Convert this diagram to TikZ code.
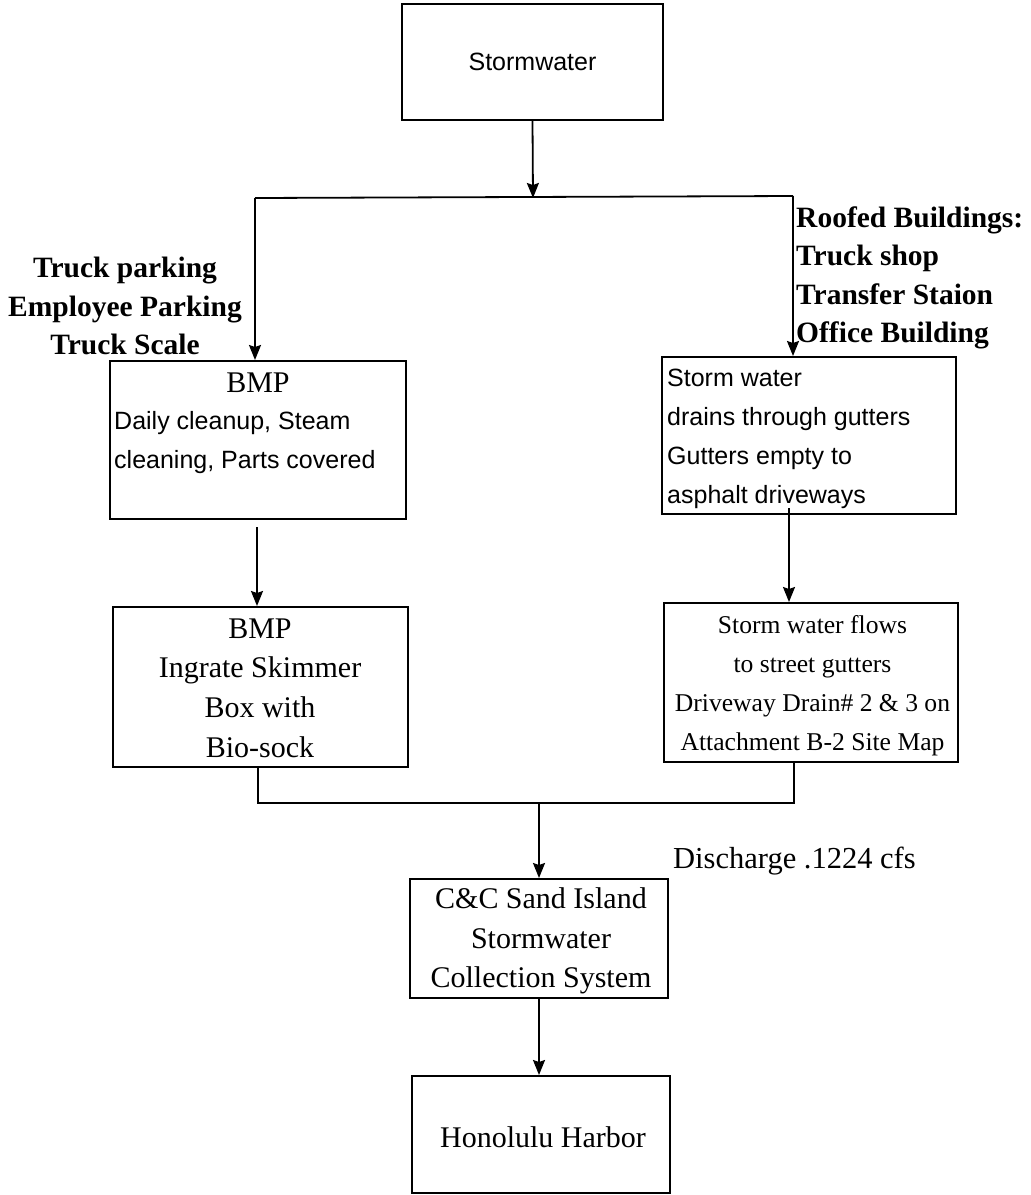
\documentclass[tikz,border=0pt]{standalone}
\usepackage{fontspec}
\setmainfont{Liberation Serif}
\setsansfont{Liberation Sans}
\usetikzlibrary{arrows.meta}
\begin{document}
\begin{tikzpicture}[x=1pt,y=-1pt,
  box/.style={draw, line width=2pt, inner sep=0pt, minimum width=#1},
  arr/.style={line width=1.8pt, -{Stealth[length=15pt,width=12pt,inset=2pt]}},
  conn/.style={line width=1.8pt},
  txt/.style={inner sep=0pt},
  sanst/.style={font=\sffamily\fontsize{25}{39}\selectfont},
  sert/.style={font=\rmfamily\fontsize{30}{39.6}\selectfont},
  serbold/.style={font=\rmfamily\bfseries\fontsize{29.5}{38.3}\selectfont}]
\useasboundingbox (0,0) rectangle (1031,1195);
\fill[white] (0,0) rectangle (1031,1195);

% boxes
\node[box=261pt, minimum height=116pt, sanst] (sw) at (532.5,62) {Stormwater};
\node[box=296pt, minimum height=158pt] (bmp1) at (258,440) {};
\node[box=295pt, minimum height=160pt] (ing) at (260.5,687) {};
\node[box=294pt, minimum height=157pt] (r1) at (809,435.5) {};
\node[box=294pt, minimum height=159pt] (r2) at (811,682.5) {};
\node[box=258pt, minimum height=119pt] (cc) at (539,938.5) {};
\node[box=258pt, minimum height=117pt] (hh) at (541,1134.5) {};

% box texts
\node[txt, sert] (bmpt) at (258,383) {BMP};
\node[txt, sanst, anchor=west, align=left] (bmpd) at (114,443) {Daily cleanup, Steam\\cleaning, Parts covered};
\node[txt, sert, align=center] (ingt) at (260,688) {BMP\\Ingrate Skimmer\\Box with\\Bio-sock};
\node[txt, sanst, anchor=west, align=left] (r1t) at (667,439) {Storm water\\drains through gutters\\Gutters empty to\\asphalt driveways};
\node[txt, font=\rmfamily\fontsize{25.6}{39}\selectfont, align=center] (r2t) at (812.5,686) {Storm water flows\\to street gutters\\Driveway Drain\# 2 \& 3 on\\Attachment B-2 Site Map};
\node[txt, sert, align=center] (cct) at (541,941) {C\&C Sand Island\\Stormwater\\Collection System};
\node[txt, sert] (hht) at (543,1137) {Honolulu Harbor};

% side labels
\node[txt, serbold, align=center] (ll) at (125,306) {Truck parking\\Employee Parking\\Truck Scale};
\node[txt, serbold, anchor=west, align=left] (rl) at (796,278) {Roofed Buildings:\\Truck shop\\Transfer Staion\\Office Building};
\node[txt, font=\rmfamily\fontsize{30.5}{36}\selectfont, anchor=west] (dis) at (673,861) {Discharge .1224 cfs};

% connectors
\coordinate (jt) at (533,198);
\coordinate (jl) at (255,198);
\coordinate (jr) at (793,196);
\draw[arr] (sw.south) -- (jt);
\draw[conn] (jl) -- (jr);
\draw[arr] (jl) -- (jl |- bmp1.north);
\draw[arr] (jr) -- (jr |- r1.north);

\coordinate (b1) at (257,527);
\draw[arr] (b1) -- (b1 |- ing.north);
\coordinate (r1b) at (789,508);
\draw[arr] (r1b) -- (r1b |- r2.north);

\coordinate (ib) at (258,803);
\coordinate (rb) at (794,803);
\coordinate (jb) at (539,803);
\draw[conn] (ib |- ing.south) -- (ib) -- (rb) -- (rb |- r2.south);
\draw[arr] (jb) -- (cc.north);
\draw[arr] (cc.south) -- (cc.south |- hh.north);
\end{tikzpicture}
\end{document}
